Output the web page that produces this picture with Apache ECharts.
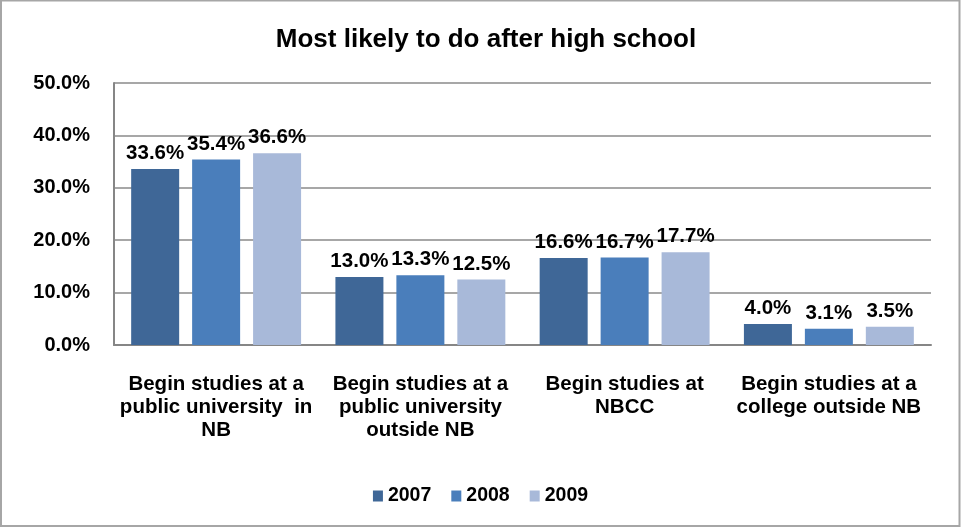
<!DOCTYPE html>
<html>
<head>
<meta charset="utf-8">
<style>
  html, body { margin: 0; padding: 0; background: #ffffff; }
  #chart { width: 961px; height: 527px; }
</style>
<script src="https://cdn.jsdelivr.net/npm/echarts@6/dist/echarts.min.js"></script>
</head>
<body>
<div id="chart"></div>
<script>
// Survey results: what students expect to do after high school
const categories = [
  'Begin studies at a\npublic university  in\nNB',
  'Begin studies at a\npublic university\noutside NB',
  'Begin studies at\nNBCC',
  'Begin studies at a\ncollege outside NB'
];
const years = ['2007', '2008', '2009'];
const values2007 = [33.6, 13.0, 16.6, 4.0];
const values2008 = [35.4, 13.3, 16.7, 3.1];
const values2009 = [36.6, 12.5, 17.7, 3.5];
const yTicks = [0, 10, 20, 30, 40, 50];

const FONT = '"Liberation Sans", Arial, Helvetica, sans-serif';
const colors = ['#3F6797', '#4A7EBB', '#A8B9D9'];

const chart = echarts.init(document.getElementById('chart'), null, { renderer: 'canvas' });

function barSeries(name, data, color) {
  return {
    name: name,
    type: 'bar',
    data: data,
    barWidth: 48,
    barGap: '27%',
    itemStyle: { color: color },
    label: {
      show: true,
      position: 'top',
      distance: 5,
      formatter: p => p.value.toFixed(1) + '%',
      fontFamily: FONT,
      fontWeight: 'bold',
      fontSize: 20.5,
      color: '#000'
    }
  };
}

chart.setOption({
  backgroundColor: '#ffffff',
  animation: false,
  textStyle: { fontFamily: FONT },
  graphic: [{
    type: 'rect',
    shape: { x: 1, y: 0.5, width: 958.5, height: 525.5 },
    style: { fill: 'none', stroke: '#a6a6a6', lineWidth: 2 },
    silent: true
  }],
  title: {
    text: 'Most likely to do after high school',
    left: 481,
    top: 22,
    textAlign: 'center',
    textStyle: { fontFamily: FONT, fontWeight: 'bold', fontSize: 26, color: '#000' }
  },
  legend: {
    data: years,
    left: 'center',
    top: 481,
    itemWidth: 10,
    itemHeight: 11,
    itemGap: 20,
    icon: 'rect',
    textStyle: { fontFamily: FONT, fontWeight: 'bold', fontSize: 19.5, color: '#000' }
  },
  grid: { left: 114, right: 30, top: 83, bottom: 182, containLabel: false },
  xAxis: {
    type: 'category',
    data: categories,
    axisTick: { show: false },
    axisLine: { lineStyle: { color: '#868686', width: 2 } },
    axisLabel: {
      interval: 0,
      margin: 28,
      lineHeight: 23,
      fontFamily: FONT,
      fontWeight: 'bold',
      fontSize: 20.5,
      color: '#000',
      align: 'center'
    }
  },
  yAxis: {
    type: 'value',
    min: yTicks[0],
    max: yTicks[yTicks.length - 1],
    interval: 10,
    axisLine: { show: true, lineStyle: { color: '#868686', width: 2 } },
    axisTick: { show: false },
    splitLine: { lineStyle: { color: '#8a8a8a', width: 1.5 } },
    axisLabel: {
      margin: 24,
      padding: [4, 0, 0, 0],
      formatter: v => v.toFixed(1) + '%',
      fontFamily: FONT,
      fontWeight: 'bold',
      fontSize: 20,
      color: '#000'
    }
  },
  series: [
    barSeries(years[0], values2007, colors[0]),
    barSeries(years[1], values2008, colors[1]),
    barSeries(years[2], values2009, colors[2])
  ]
});
</script>
</body>
</html>
